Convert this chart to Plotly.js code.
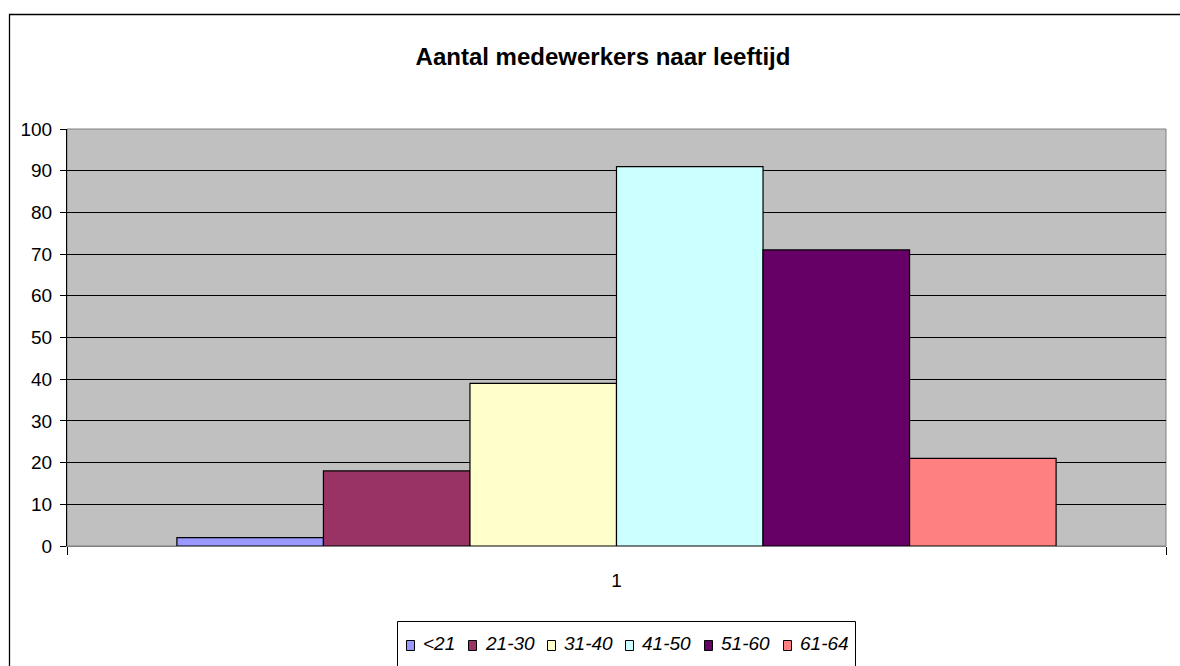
<!DOCTYPE html>
<html>
<head>
<meta charset="utf-8">
<script src="https://cdn.plot.ly/plotly-3.0.1.min.js"></script>
<style>html,body{margin:0;padding:0;background:#fff;}#chart{width:1180px;height:666px;}</style>
</head>
<body>
<div id="chart"></div>
<script>
const categories = ["1"];
const seriesNames = ["<21", "21-30", "31-40", "41-50", "51-60", "61-64"];
const seriesValues = [[2], [18], [39], [91], [71], [21]];
const seriesColors = ["#9999FF", "#993366", "#FFFFCC", "#CCFFFF", "#660066", "#FF8080"];
const yTicks = [0, 10, 20, 30, 40, 50, 60, 70, 80, 90, 100];

const fontFam = "Liberation Sans, Arial, sans-serif";
const traces = seriesNames.map((name, i) => ({
  type: "bar",
  name: name,
  x: categories,
  y: seriesValues[i],
  showlegend: false,
  marker: {color: seriesColors[i], line: {color: "#000000", width: 1.2}},
  hoverinfo: "name+y"
}));

const W = 1180, H = 666, L = 67, R = 14, T = 129, B = 120;
const pw = W - L - R, ph = H - T - B;
const px = v => (v - L) / pw;
const py = v => (H - B - v) / ph;

// legend (Excel-style, drawn as shapes + text annotations)
const legFontSize = 19;
const cv = document.createElement("canvas").getContext("2d");
cv.font = "italic " + legFontSize + "px 'Liberation Sans', Arial, sans-serif";
const symW = 8, symH = 10, symGap = 7, itemGap = 15;
const textW = seriesNames.map(n => cv.measureText(n).width);
const totalW = textW.reduce((a, w) => a + symW + symGap + w, 0) + itemGap * (seriesNames.length - 1);
const legCenterX = 626, legY = 645;
let cx = legCenterX - totalW / 2;
const legShapes = [], legAnn = [];
seriesNames.forEach((n, i) => {
  legShapes.push({type: "rect", xref: "paper", yref: "paper",
    x0: px(Math.round(cx) + 0.5), x1: px(Math.round(cx) + 0.5 + symW),
    y0: py(legY + symH / 2 + 0.5), y1: py(legY - symH / 2 + 0.5),
    line: {color: "#000", width: 1}, fillcolor: seriesColors[i]});
  legAnn.push({xref: "paper", yref: "paper", x: px(cx + symW + symGap), y: py(legY - 2),
    xanchor: "left", yanchor: "middle", showarrow: false, text: n.replace("<", "&lt;"),
    font: {family: fontFam, size: legFontSize, color: "#000", style: "italic"}});
  cx += symW + symGap + textW[i] + itemGap;
});

const layout = {
  width: W, height: H,
  margin: {l: L, r: R, t: T, b: B, pad: 0, autoexpand: false},
  paper_bgcolor: "#FFFFFF",
  plot_bgcolor: "#C0C0C0",
  barmode: "group",
  bargap: 0.2,
  bargroupgap: 0,
  showlegend: false,
  font: {family: fontFam, size: 19, color: "#000"},
  title: {
    text: "<b>Aantal medewerkers naar leeftijd</b>",
    font: {family: fontFam, size: 24, color: "#000"},
    x: 603 / W, xanchor: "center", xref: "container",
    y: 1 - 57 / H, yanchor: "middle", yref: "container"
  },
  xaxis: {
    type: "category",
    tickson: "boundaries",
    ticks: "outside", ticklen: 8, tickcolor: "#000", tickwidth: 1,
    showgrid: false, zeroline: false,
    showline: true, linecolor: "#808080", linewidth: 1,
    ticklabelstandoff: 17,
    tickfont: {family: fontFam, size: 19, color: "#000"}
  },
  yaxis: {
    range: [0, 100],
    tickvals: yTicks,
    ticktext: yTicks.map(String),
    ticks: "outside", ticklen: 6, tickcolor: "#000", tickwidth: 1,
    showgrid: true, gridcolor: "#000000", gridwidth: 1,
    zeroline: false,
    showline: true, linecolor: "#000", linewidth: 1,
    ticklabelstandoff: 4,
    tickfont: {family: fontFam, size: 19, color: "#000"}
  },
  annotations: legAnn,
  shapes: [
    {type: "rect", xref: "paper", yref: "paper", x0: 0, x1: 1, y0: 0, y1: 1,
     line: {color: "#808080", width: 1}, fillcolor: "rgba(0,0,0,0)", layer: "below"},
    {type: "rect", xref: "paper", yref: "paper", x0: px(397.5), x1: px(855.5), y0: py(700), y1: py(621.5),
     line: {color: "#000", width: 1}, fillcolor: "rgba(0,0,0,0)"},
    {type: "rect", xref: "paper", yref: "paper", x0: px(9.5), x1: px(1190), y0: py(700), y1: py(14.5),
     line: {color: "#000", width: 1.3}, fillcolor: "rgba(0,0,0,0)"}
  ].concat(legShapes)
};

Plotly.newPlot("chart", traces, layout, {displayModeBar: false, staticPlot: true});
</script>
</body>
</html>
